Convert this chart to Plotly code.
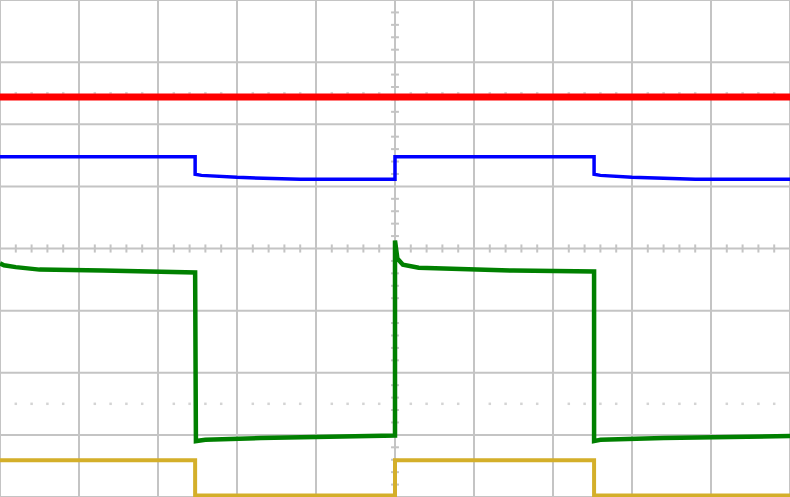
import plotly.graph_objects as go

# ---- data (time in divisions, amplitude in divisions from screen centre) ----
red_t = [0.0, 10.0]
red_v = [2.44, 2.44]

blue_t = [0.0, 2.47, 2.47, 2.55, 3.0, 3.8, 5.0, 5.0, 7.52, 7.52, 7.6, 8.0, 8.8, 10.0]
blue_v = [1.476, 1.476, 1.194, 1.177, 1.145, 1.113, 1.113, 1.476, 1.476, 1.194, 1.177, 1.145, 1.113, 1.113]

green_t = [0.0, 0.05, 0.2, 0.5, 1.3, 2.47, 2.48, 2.6, 3.3, 5.0, 5.0, 5.03, 5.1, 5.3, 6.5, 7.52, 7.52, 7.6, 8.4, 10.0]
green_v = [-0.24, -0.27, -0.30, -0.34, -0.355, -0.385, -3.10, -3.08, -3.05, -3.01,
           0.13, -0.16, -0.26, -0.31, -0.355, -0.37, -3.10, -3.08, -3.05, -3.02]

yellow_t = [0.0, 2.47, 2.47, 5.0, 5.0, 7.52, 7.52, 10.0]
yellow_v = [-3.41, -3.41, -3.975, -3.975, -3.41, -3.41, -3.975, -3.975]

# graticule
grid_x = list(range(0, 11))
grid_y = list(range(-4, 5))
minor_x = [i / 5 for i in range(0, 51) if i % 5 != 0]
minor_y = [i / 5 for i in range(-20, 21) if i % 5 != 0]
dot_rows = [2.5, -2.5]

GRID = "#c4c4c4"
fig = go.Figure()

shapes = []
for gx in grid_x:
    shapes.append(dict(type="line", x0=gx, x1=gx, y0=-4, y1=4, line=dict(color=GRID, width=2), layer="below"))
for gy in grid_y:
    shapes.append(dict(type="line", x0=0, x1=10, y0=gy, y1=gy, line=dict(color=GRID, width=2), layer="below"))
# centre cross minor ticks
for my in minor_y:
    shapes.append(dict(type="line", x0=5 - 0.05, x1=5 + 0.05, y0=my, y1=my, line=dict(color=GRID, width=2), layer="below"))
for mx in minor_x:
    shapes.append(dict(type="line", x0=mx, x1=mx, y0=-0.065, y1=0.065, line=dict(color=GRID, width=2), layer="below"))

# dotted rows
for dr in dot_rows:
    fig.add_trace(go.Scatter(x=minor_x, y=[dr] * len(minor_x), mode="markers",
                             marker=dict(symbol="square", size=2.5, color="#d4d4d4", line=dict(width=0)),
                             hoverinfo="skip", showlegend=False))

fig.add_trace(go.Scatter(x=red_t, y=red_v, mode="lines", line=dict(color="#ff0000", width=7), hoverinfo="skip", showlegend=False))
fig.add_trace(go.Scatter(x=blue_t, y=blue_v, mode="lines", line=dict(color="#0000ff", width=3.5), hoverinfo="skip", showlegend=False))
fig.add_trace(go.Scatter(x=green_t, y=green_v, mode="lines", line=dict(color="#008000", width=4.5), hoverinfo="skip", showlegend=False))
fig.add_trace(go.Scatter(x=yellow_t, y=yellow_v, mode="lines", line=dict(color="#d4af2a", width=4), hoverinfo="skip", showlegend=False))

fig.update_layout(
    width=790, height=497,
    margin=dict(l=0, r=0, t=0, b=0),
    paper_bgcolor="white", plot_bgcolor="white",
    xaxis=dict(range=[0, 10], visible=False, fixedrange=True),
    yaxis=dict(range=[-4, 4], visible=False, fixedrange=True),
    shapes=shapes,
    showlegend=False,
)
fig.write_html("out.html", config={"displayModeBar": False},
               post_script="document.body.style.margin='0';document.body.style.overflow='hidden';")
